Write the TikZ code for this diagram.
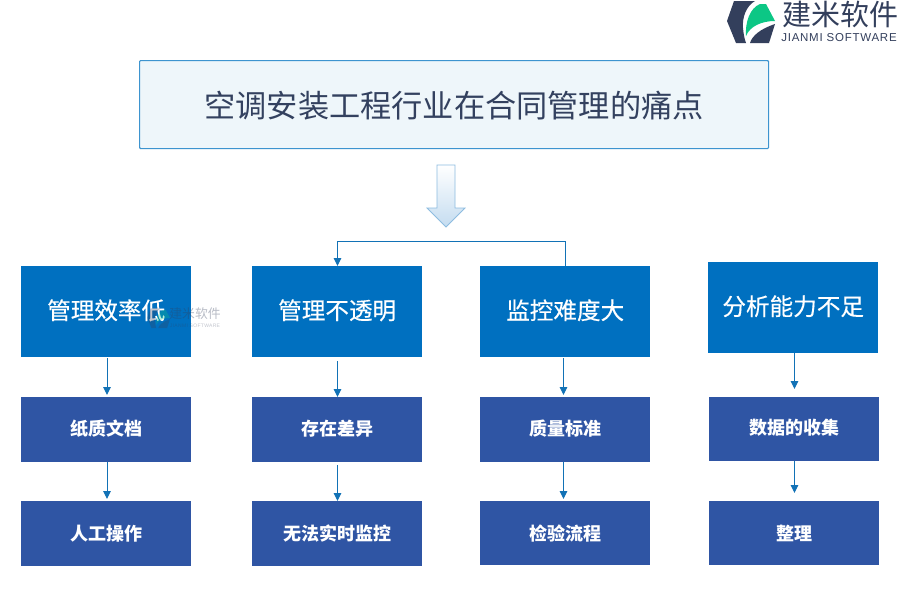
\documentclass[tikz,border=0pt]{standalone}
\usepackage{fontspec}
\setmainfont{Liberation Sans}
\newfontfamily\cjk{Noto Sans CJK SC}
\newfontfamily\cjkmid[FakeBold=0.35]{Noto Sans CJK SC}
\newfontfamily\spaced[LetterSpace=6.5]{Liberation Sans}
\usetikzlibrary{arrows.meta}
\definecolor{headblue}{HTML}{0070C0}
\definecolor{subblue}{HTML}{2F55A4}
\definecolor{linkblue}{HTML}{1272B6}
\definecolor{titleedge}{HTML}{3D94CF}
\definecolor{titlefill}{HTML}{EEF6FA}
\definecolor{titleink}{HTML}{33415F}
\definecolor{logodark}{HTML}{333F5C}
\definecolor{logogreen}{HTML}{0CC785}
\definecolor{arrowfoot}{HTML}{C4DCF0}
\definecolor{arrowedge}{HTML}{8DBCE0}
\tikzset{
  x=1pt,y=-1pt,
  headbox/.style={fill=headblue,text=white,minimum width=170pt,anchor=north west,inner sep=0pt,text depth=4.8pt,font=\cjkmid\fontsize{23.6}{26}\selectfont},
  subbox/.style={fill=subblue,text=white,minimum width=170pt,anchor=north west,inner sep=0pt,font=\cjk\bfseries\fontsize{18}{20}\selectfont},
  raised/.style={text depth=4pt},
  link/.style={draw=linkblue,line width=1pt,-{Triangle[length=8pt,width=7.5pt]}},
}
% company mark: hexagon pieces and the green leaf
\newcommand{\companymark}{%
  \fill[logodark] (5,21) -- (12,1) -- (33,1) .. controls (24,6) and (20,18) .. (21,28) .. controls (21.5,34) and (22.5,39) .. (24,43) -- (14,43) -- cycle;
  \fill[logodark] (28,43) .. controls (30,36) and (38,29) .. (53,24) -- (47,43) -- cycle;
  \fill[logogreen] (24,36) .. controls (23,22) and (28,8) .. (38,4) -- (44,4) -- (53,21) .. controls (40,21) and (28,26) .. (24,36) -- cycle;
}
\begin{document}
\begin{tikzpicture}
\useasboundingbox (0,0) rectangle (900,600);
\fill[white] (0,0) rectangle (900,600);

\begin{scope}[shift={(722,0)}]
  \companymark
\end{scope}
\node[text=logodark,font=\cjk\fontsize{29}{30}\selectfont,inner sep=0pt] (brand) at (840,14) {建米软件};
\node[text=logodark,font=\spaced\fontsize{11.5}{12}\selectfont,inner sep=0pt] (brandlatin) at (839,38) {JIANMI SOFTWARE};

\node[draw=titleedge,fill=titlefill,line width=1.1pt,rounded corners=1pt,minimum width=629pt,minimum height=88pt,inner sep=0pt,anchor=north west,text=titleink,text depth=0pt,font=\cjk\fontsize{31.2}{34}\selectfont] (title) at (139,60) {空调安装工程行业在合同管理的痛点};

% large down arrow with a fade towards its tail
\shade[top color=white,bottom color=arrowfoot,draw=arrowedge,line width=0.8pt]
  (437,165) -- (455,165) -- (455,208) -- (465,208) -- (446,227) -- (427,208) -- (437,208) -- cycle;

\node[headbox,minimum height=91pt] (a1) at (21,266) {管理效率低};
\node[headbox,minimum height=91pt] (b1) at (252,266) {管理不透明};
\node[headbox,minimum height=91pt] (c1) at (480,266) {监控难度大};
\node[headbox,minimum height=91pt] (d1) at (708,262) {分析能力不足};

\node[subbox,raised,minimum height=65pt] (a2) at (21,397) {纸质文档};
\node[subbox,raised,minimum height=65pt] (b2) at (252,397) {存在差异};
\node[subbox,raised,minimum height=65pt] (c2) at (480,397) {质量标准};
\node[subbox,raised,minimum height=64pt] (d2) at (709,397) {数据的收集};

\node[subbox,minimum height=65pt] (a3) at (21,501) {人工操作};
\node[subbox,minimum height=65pt] (b3) at (252,501) {无法实时监控};
\node[subbox,minimum height=64pt] (c3) at (480,501) {检验流程};
\node[subbox,minimum height=64pt] (d3) at (709,501) {整理};

\coordinate (a1s) at (107,358);\coordinate (a2e) at (107,395);
\coordinate (b1s) at (337.5,361);\coordinate (b2e) at (337.5,397);
\coordinate (c1s) at (563.5,358);\coordinate (c2e) at (563.5,395);
\coordinate (d1s) at (794.5,353);\coordinate (d2e) at (794.5,389);
\coordinate (a2s) at (107,462);\coordinate (a3e) at (107,499);
\coordinate (b2s) at (337.5,465);\coordinate (b3e) at (337.5,501);
\coordinate (c2s) at (563.5,462);\coordinate (c3e) at (563.5,499);
\coordinate (d2s) at (794.5,461);\coordinate (d3e) at (794.5,493);
\draw[link] (a1s) -- (a2e);
\draw[link] (b1s) -- (b2e);
\draw[link] (c1s) -- (c2e);
\draw[link] (d1s) -- (d2e);
\draw[link] (a2s) -- (a3e);
\draw[link] (b2s) -- (b3e);
\draw[link] (c2s) -- (c3e);
\draw[link] (d2s) -- (d3e);

\coordinate (cTop) at (565,266);
\coordinate (bTop) at (337.5,266);
\draw[link] (cTop) -- (565,241.5) -- (337.5,241.5) -- (bTop);

% faint repeat of the company mark across the first heading
\begin{scope}[opacity=0.3,shift={(145,308)},scale=0.47]
  \companymark
\end{scope}
\node[text=logodark,opacity=0.35,font=\cjk\fontsize{12.8}{14}\selectfont,inner sep=0pt] (ghost) at (195,314) {建米软件};
\node[text=logodark,opacity=0.3,font=\spaced\fontsize{5}{6}\selectfont,inner sep=0pt] (ghostlatin) at (195,326) {JIANMI SOFTWARE};
\end{tikzpicture}
\end{document}
